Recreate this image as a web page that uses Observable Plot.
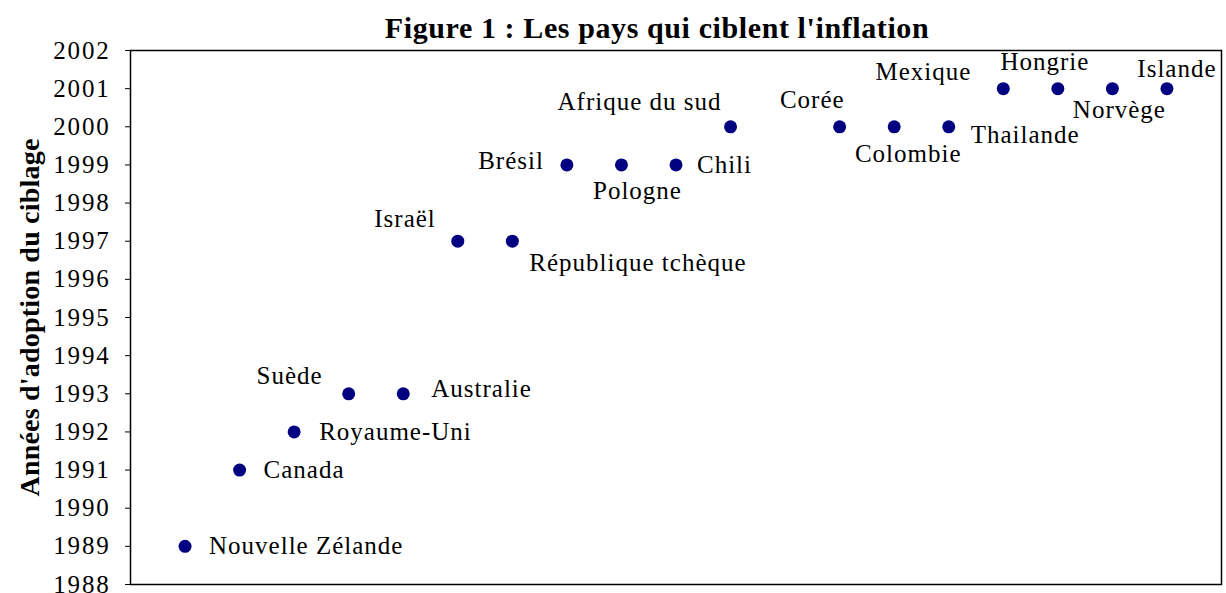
<!DOCTYPE html>
<html>
<head>
<meta charset="utf-8">
<script src="https://cdn.jsdelivr.net/npm/d3@7"></script>
<script src="https://cdn.jsdelivr.net/npm/@observablehq/plot@0.6"></script>
<style>
  html, body { margin: 0; padding: 0; background: #fff; }
  #chart svg { display: block; }
  g[aria-label="y-axis tick label"] text { letter-spacing: 1.8px; }
  g[aria-label="y-axis label"] text { font-size: 28px; font-weight: bold; letter-spacing: 0.2px; }
  .lbl text { letter-spacing: 1.0px; }
  .ttl text { letter-spacing: 0.6px; }
</style>
</head>
<body>
<div id="chart"></div>
<script>
// ---- data ----
const countries = ["Nouvelle Zélande", "Canada", "Royaume-Uni", "Suède", "Australie", "Israël",
  "République tchèque", "Brésil", "Pologne", "Chili", "Afrique du sud", "", "Corée", "Colombie",
  "Thailande", "Mexique", "Hongrie", "Norvège", "Islande"];
const years = [1989, 1991, 1992, 1993, 1993, 1997, 1997, 1999, 1999, 1999, 2000, null, 2000, 2000,
  2000, 2001, 2001, 2001, 2001];
const yTicks = [1988, 1989, 1990, 1991, 1992, 1993, 1994, 1995, 1996, 1997, 1998, 1999, 2000, 2001, 2002];
const title = "Figure 1 : Les pays qui ciblent l'inflation";
const yLabel = "Années d'adoption du ciblage";

const data = countries.map((name, i) => ({rank: i + 1, name, year: years[i]})).filter(d => d.year != null);

// label placement relative to each dot: [textAnchor, dx, dy]
const labelLayout = {
  "Nouvelle Zélande": ["start", 24, 0],
  "Canada": ["start", 24, 0],
  "Royaume-Uni": ["start", 25, 0],
  "Suède": ["end", -26, -18],
  "Australie": ["start", 28, -5],
  "Israël": ["end", -22, -22],
  "République tchèque": ["start", 17, 22],
  "Brésil": ["end", -23, -4],
  "Pologne": ["middle", 16, 26],
  "Chili": ["start", 21, 0],
  "Afrique du sud": ["end", -9, -25],
  "Corée": ["end", 5, -27],
  "Colombie": ["middle", 14, 27],
  "Thailande": ["start", 22, 8],
  "Mexique": ["end", -32, -17],
  "Hongrie": ["middle", -13, -27],
  "Norvège": ["middle", 7, 21],
  "Islande": ["middle", 10, -20]
};

const labelMarks = data.map(d => {
  const [anchor, dx, dy] = labelLayout[d.name];
  return Plot.text([d], {x: "rank", y: "year", text: "name", textAnchor: anchor, dx, dy,
    fontSize: 25, fill: "black", className: "lbl"});
});

const chart = Plot.plot({
  width: 1226,
  height: 593,
  marginTop: 50,
  marginBottom: 9,
  marginLeft: 130,
  marginRight: 5,
  style: {fontFamily: "'Liberation Serif', 'Times New Roman', serif", background: "white", color: "black"},
  x: {domain: [0, 20], axis: null},
  y: {domain: [1988, 2002]},
  marks: [
    Plot.axisY({ticks: yTicks, tickSize: 5, tickPadding: 15, fontSize: 25, tickFormat: d => String(d),
      label: yLabel, labelAnchor: "center", labelOffset: 111, labelArrow: "none"}),
    Plot.frame({stroke: "black", strokeWidth: 1.5}),
    Plot.dot(data, {x: "rank", y: "year", r: 6.5, fill: "#000080", stroke: "none"}),
    ...labelMarks,
    Plot.text([title], {frameAnchor: "top", lineAnchor: "bottom", dy: -13, dx: -19, fontSize: 30,
      fontWeight: "bold", fill: "black", className: "ttl"})
  ]
});
document.getElementById("chart").append(chart);
</script>
</body>
</html>
